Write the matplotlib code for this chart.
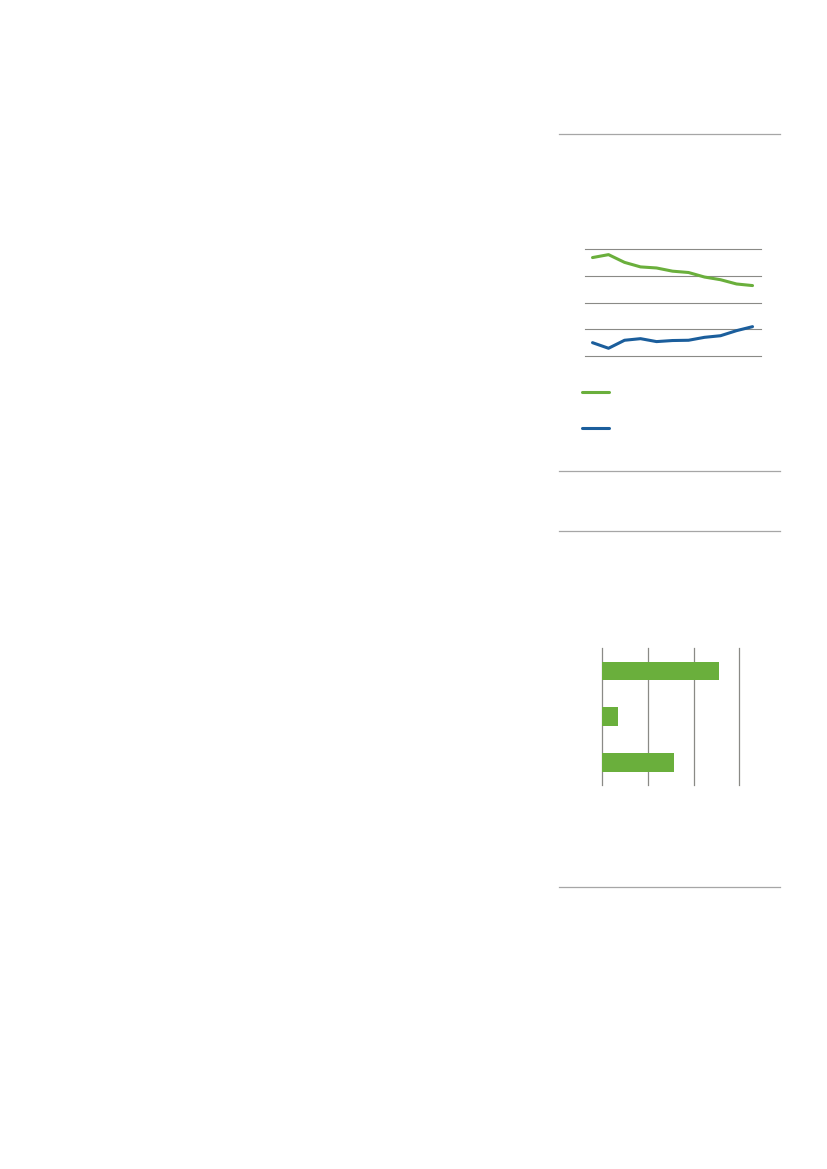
import numpy as np
import matplotlib.pyplot as plt
from matplotlib.lines import Line2D

W, H = 827, 1169

# line chart data (gridlines = 0..4)
years = np.arange(11)
green_vals = [3.69, 3.80, 3.51, 3.34, 3.30, 3.18, 3.13, 2.96, 2.86, 2.70, 2.64]
blue_vals = [0.50, 0.29, 0.59, 0.65, 0.54, 0.58, 0.59, 0.70, 0.76, 0.95, 1.10]

# bar chart data
bar_cats = ['a', 'b', 'c']
bar_vals = [2.55, 0.34, 1.57]

GREEN = '#6aaf3c'
BLUE = '#1b5e9c'
GRID = '#8a8a86'
RULE = '#a6a6a6'


def fig_box(x0, y0, x1, y1):
    # pixel box -> figure fractions
    return [x0 / W, 1 - y1 / H, (x1 - x0) / W, (y1 - y0) / H]


fig = plt.figure(figsize=(8.27, 11.69), dpi=100)

# horizontal rules of the side column
for yy in [134, 471, 531, 887]:
    fig.add_artist(Line2D([559 / W, 780 / W], [1 - yy / H, 1 - yy / H],
                          color=RULE, lw=0.9))

# line chart
ax = fig.add_axes(fig_box(585, 249.3, 761, 356))
ax.set_xlim(-0.47, 10.53)
ax.set_ylim(0, 4)
for g in range(5):
    ax.axhline(g, color=GRID, lw=0.8, clip_on=False, zorder=1)
ax.plot(years, green_vals, color=GREEN, lw=2.2, solid_capstyle='round', zorder=3)
ax.plot(years, blue_vals, color=BLUE, lw=2.2, solid_capstyle='round', zorder=3)
ax.axis('off')

# legend keys
for yy, c in [(392.3, GREEN), (428.3, BLUE)]:
    fig.add_artist(Line2D([582 / W, 608.5 / W], [1 - yy / H, 1 - yy / H],
                          color=c, lw=2.2, solid_capstyle='round'))

# bar chart
bx = fig.add_axes(fig_box(602.3, 648.3, 739.3, 785))
bx.set_xlim(0, 3)
bx.set_ylim(2.5, -0.5)
for g in range(4):
    bx.axvline(g, color=GRID, lw=0.9, clip_on=False, zorder=1)
bx.barh(np.arange(len(bar_cats)), bar_vals, height=0.41, color=GREEN, zorder=2)
bx.axis('off')

fig.savefig('out.png', dpi=100)
